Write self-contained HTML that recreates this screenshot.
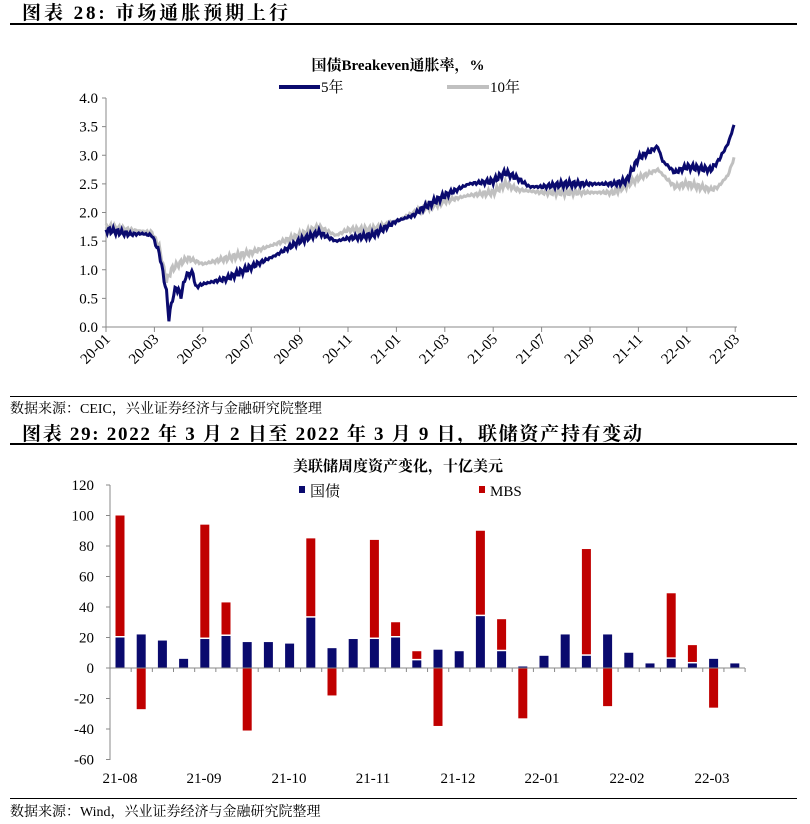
<!DOCTYPE html>
<html><head><meta charset="utf-8"><style>
body{margin:0;background:#fff;width:810px;height:824px;overflow:hidden;font-family:"Liberation Serif","Noto Serif CJK SC",serif}
svg{position:absolute;left:0;top:0}
</style></head><body>
<svg id="s" width="810" height="824" xmlns="http://www.w3.org/2000/svg" font-family="Liberation Serif, Noto Serif CJK SC, serif">
<text x="22" y="19" font-size="19" font-weight="bold" textLength="266" lengthAdjust="spacing">图表 28:  市场通胀预期上行</text>
<rect x="10" y="23" width="787" height="2" fill="#000"/>
<text x="398" y="70" font-size="15" font-weight="bold" text-anchor="middle">国债Breakeven通胀率，%</text>
<line x1="279" y1="87" x2="320" y2="87" stroke="#0a0a6e" stroke-width="4"/>
<text x="321" y="92" font-size="15">5年</text>
<line x1="447" y1="87" x2="489" y2="87" stroke="#c0c0c0" stroke-width="4"/>
<text x="490" y="92" font-size="15">10年</text>
<g id="topg" font-size="15" fill="#000"></g>
<rect x="10" y="396" width="787" height="1" fill="#000"/>
<text x="10" y="413" font-size="14">数据来源：CEIC，兴业证券经济与金融研究院整理</text>
<text x="22" y="440" font-size="19" font-weight="bold" textLength="620" lengthAdjust="spacing">图表 29:  2022 年 3 月 2 日至 2022 年 3 月 9 日，联储资产持有变动</text>
<rect x="10" y="443" width="787" height="2" fill="#000"/>
<text x="398" y="471" font-size="15" font-weight="bold" text-anchor="middle">美联储周度资产变化，十亿美元</text>
<rect x="299" y="486" width="6" height="7" fill="#0a0a6e"/>
<text x="310" y="496" font-size="15">国债</text>
<rect x="479" y="486" width="6" height="7" fill="#c00000"/>
<text x="490" y="496" font-size="15">MBS</text>
<g id="botg" font-size="15"></g>
<rect x="10" y="798" width="787" height="1" fill="#000"/>
<text x="10" y="816" font-size="14">数据来源：Wind，兴业证券经济与金融研究院整理</text>
</svg>
<script>
(function(){
var NS="http://www.w3.org/2000/svg";
function el(p,t,a,txt){var e=document.createElementNS(NS,t);for(var k in a)e.setAttribute(k,a[k]);if(txt!=null)e.textContent=txt;p.appendChild(e);return e;}
var tg=document.getElementById("topg");
var X0=106,Y0=327,SY=57.25,SX=24.2;
el(tg,"line",{x1:X0,y1:98,x2:X0,y2:Y0,stroke:"#888"});
el(tg,"line",{x1:X0,y1:Y0,x2:737,y2:Y0,stroke:"#888"});
for(var i=0;i<=8;i++){var y=Y0-i*0.5*SY;el(tg,"line",{x1:X0-4,y1:y,x2:X0,y2:y,stroke:"#888"});el(tg,"text",{x:X0-8,y:y+5,"text-anchor":"end"},(i*0.5).toFixed(1));}
var labs=["20-01","20-03","20-05","20-07","20-09","20-11","21-01","21-03","21-05","21-07","21-09","21-11","22-01","22-03"];
for(var i=0;i<14;i++){var x=X0+i*2*SX;el(tg,"line",{x1:x,y1:Y0,x2:x,y2:Y0+5,stroke:"#888"});el(tg,"text",{x:0,y:0,"text-anchor":"end",transform:"translate("+(x+5)+","+(Y0+13)+") rotate(-45)"},labs[i]);}
var a5=[[0,1.7],[1,1.62],[1.5,1.63],[1.9,1.6],[2.2,1.3],[2.5,0.6],[2.6,0.15],[2.75,0.5],[2.9,0.7],[3.1,0.55],[3.3,0.9],[3.6,0.95],[3.7,0.7],[4,0.75],[5,0.85],[6,1.05],[7,1.25],[8,1.5],[8.8,1.65],[9.5,1.5],[10,1.55],[11,1.6],[12,1.85],[12.7,1.95],[13,2.05],[14,2.3],[15,2.5],[16,2.55],[16.5,2.7],[17,2.6],[17.5,2.45],[18,2.45],[19,2.5],[20,2.5],[21,2.5],[21.5,2.55],[22,2.95],[22.8,3.15],[23,2.9],[23.5,2.7],[24,2.8],[25,2.75],[25.3,2.9],[25.7,3.2],[25.95,3.52]];
var a10=[[0,1.75],[1.9,1.65],[2.2,1.4],[2.5,0.8],[2.7,1.0],[3,1.1],[3.4,1.2],[4,1.1],[5,1.2],[6,1.3],[7,1.45],[8,1.6],[8.8,1.75],[9.5,1.6],[10,1.7],[11,1.7],[12,1.85],[13,2.05],[14,2.2],[15,2.3],[16,2.35],[16.5,2.5],[17,2.4],[18,2.35],[19,2.35],[20,2.35],[21,2.35],[22,2.6],[22.8,2.75],[23.5,2.45],[24,2.5],[25,2.4],[25.3,2.45],[25.7,2.65],[25.95,2.95]];
function interp(a,t){for(var i=1;i<a.length;i++){if(t<=a[i][0]){var f=(t-a[i-1][0])/(a[i][0]-a[i-1][0]);return a[i-1][1]+f*(a[i][1]-a[i-1][1]);}}return a[a.length-1][1];}
function path(a,seed){var d="";for(var t=0;t<=25.96;t+=0.05){var v=interp(a,t)+0.035*Math.sin(t*37+seed)+0.025*Math.sin(t*91+seed*2);d+=(d?"L":"M")+(X0+t*SX).toFixed(1)+","+(Y0-v*SY).toFixed(1);}return d;}
el(tg,"path",{d:path(a10,1),fill:"none",stroke:"#c0c0c0","stroke-width":3});
el(tg,"path",{d:path(a5,3),fill:"none",stroke:"#0a0a6e","stroke-width":3});
var bg=document.getElementById("botg");
var BX=110,BZ=668,BS=1.525;
el(bg,"line",{x1:BX,y1:485,x2:BX,y2:760,stroke:"#888"});
for(var v=-60;v<=120;v+=20){var y=BZ-v*BS;el(bg,"line",{x1:BX-4,y1:y,x2:BX,y2:y,stroke:"#888"});el(bg,"text",{x:BX-16,y:y+5,"text-anchor":"end"},v);}
var d=[[20,80],[22,-27],[18,0],[6,0],[19,75],[21,22],[17,-41],[17,0],[16,0],[33,52],[13,-18],[19,0],[19,65],[20,10],[5,6],[12,-38],[11,0],[34,56],[11,21],[1,-33],[8,0],[22,0],[8,70],[22,-25],[10,0],[3,0],[6,43],[3,12],[6,-26],[3,0]];
for(var i=0;i<30;i++){var cx=120+i*21.2,T=d[i][0],M=d[i][1];
el(bg,"rect",{x:cx-4.5,y:BZ-T*BS,width:9,height:T*BS,fill:"#0a0a6e"});
if(M>0)el(bg,"rect",{x:cx-4.5,y:BZ-(T+M)*BS,width:9,height:M*BS-1.5,fill:"#c00000"});
if(M<0)el(bg,"rect",{x:cx-4.5,y:BZ,width:9,height:-M*BS,fill:"#c00000"});}
el(bg,"line",{x1:BX,y1:BZ,x2:745,y2:BZ,stroke:"#888"});
for(var i=0;i<=30;i++){var x=BX+i*21.17;el(bg,"line",{x1:x,y1:BZ,x2:x,y2:BZ+4,stroke:"#888"});}
var bl=["21-08","21-09","21-10","21-11","21-12","22-01","22-02","22-03"],bx=[120,204,289,373,458,542,627,712];
for(var i=0;i<8;i++)el(bg,"text",{x:bx[i],y:783,"text-anchor":"middle"},bl[i]);
})();
</script>
</body></html>
